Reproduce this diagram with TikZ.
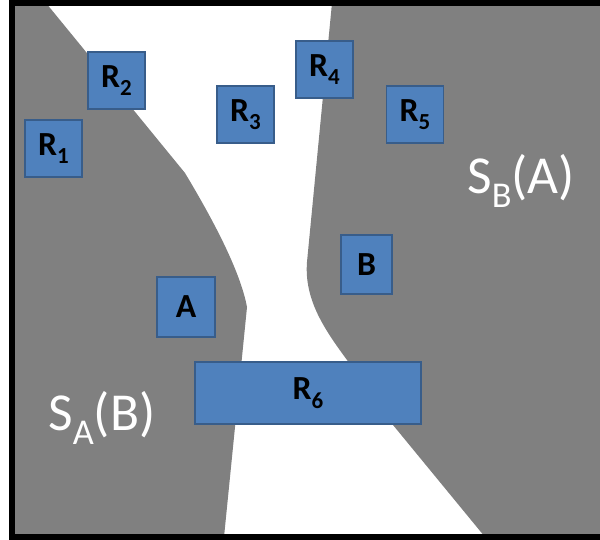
\documentclass[tikz,border=0pt]{standalone}
\usepackage{fontspec}
\setmainfont{Carlito}

\definecolor{shadegray}{RGB}{128,128,128}
\definecolor{boxblue}{RGB}{79,129,189}
\definecolor{boxedge}{RGB}{56,93,138}

% lowered, smaller index as in R_1 or S_A
\newcommand{\lowsub}[1]{\raisebox{-0.25em}{\scalebox{0.68}{#1}}}

\tikzset{
    robot/.style={draw=boxedge, fill=boxblue, line width=0.8pt, inner sep=0pt,
        minimum width=1.425cm, minimum height=1.425cm,
        font=\fontsize{24}{28}\selectfont\bfseries},
    setlabel/.style={text=white, anchor=base west, inner sep=0pt,
        font=\fontsize{38}{44}\selectfont}
}

\begin{document}
\begin{tikzpicture}
        \clip (0,0) rectangle (15,13.5);

        % Left set S_A(B)
        \fill[shadegray] (0.3,13.425) -- (1.15,13.425) -- (4.625,9.175)
            .. controls (5.3,8.05) and (6.0,6.75) .. (6.175,5.825)
            -- (5.6,0.075) -- (0.3,0.075) -- cycle;

        % Right set S_B(A)
        \fill[shadegray] (8.3,13.425) -- (15.25,13.425) -- (15.25,0.075) -- (12.125,0.075)
            -- (9.825,2.875) -- (8.675,4.5)
            .. controls (8.125,5.25) and (7.6,6.0) .. (7.675,6.95) -- cycle;

        % Frame
        \draw[line width=4.25pt] (0.3,13.425) rectangle (15.25,0.075);

        % Obstacles
        \node[robot] (r1) at (1.3375,9.7875) {R\lowsub{1}};
        \node[robot] (r2) at (2.9125,11.4875) {R\lowsub{2}};
        \node[robot] (r3) at (6.1375,10.6375) {R\lowsub{3}};
        \node[robot] (r4) at (8.1125,11.7625) {R\lowsub{4}};
        \node[robot] (r5) at (10.375,10.6375) {R\lowsub{5}};
        \node[robot, minimum width=5.65cm, minimum height=1.55cm] (r6) at (7.7,3.675) {R\lowsub{6}};

        % The two robots
        \node[robot, minimum width=1.45cm, minimum height=1.5cm] (a) at (4.65,5.825) {A};
        \node[robot, minimum width=1.275cm, minimum height=1.475cm] (b) at (9.1625,6.8875) {B};

        % Set labels
        \node[setlabel] (sba) at (11.675,8.65) {S\lowsub{B}(A)};
        \node[setlabel] (sab) at (1.2,2.725) {S\lowsub{A}(B)};
    \end{tikzpicture}
\end{document}
